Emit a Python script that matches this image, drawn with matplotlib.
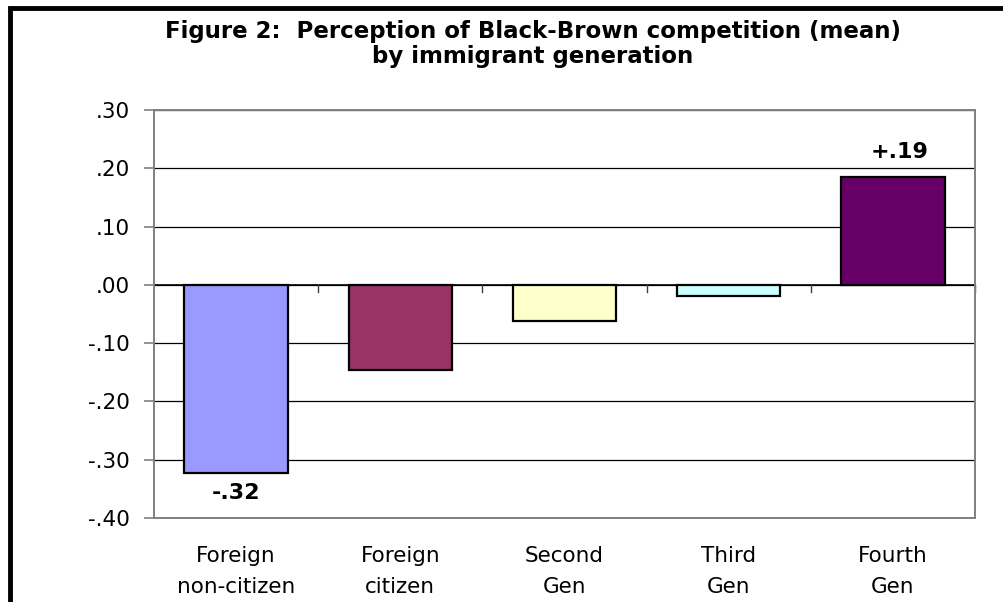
import matplotlib
matplotlib.use("Agg")
import matplotlib.pyplot as plt
from matplotlib.patches import Rectangle

categories = [["Foreign", "non-citizen"], ["Foreign", "citizen"], ["Second", "Gen"], ["Third", "Gen"], ["Fourth", "Gen"]]
values = [-0.323, -0.146, -0.062, -0.019, 0.185]
colors = ["#9999FF", "#993366", "#FFFFCC", "#CCFFFF", "#660066"]
ytick_vals = [-0.40, -0.30, -0.20, -0.10, 0.00, 0.10, 0.20, 0.30]
ytick_labels = ["-.40", "-.30", "-.20", "-.10", ".00", ".10", ".20", ".30"]
annotations = {0: "-.32", 4: "+.19"}
title_lines = ["Figure 2:  Perception of Black-Brown competition (mean)", "by immigrant generation"]

plt.rcParams['font.family'] = ['DejaVu Sans']

W, H = 1004, 602
fig = plt.figure(figsize=(W / 100, H / 100), dpi=100)
ax = fig.add_axes([154 / W, 1 - 518 / H, (975 - 154) / W, (518 - 110) / H])

x = list(range(len(categories)))
ax.bar(x, values, width=0.63, color=colors, edgecolor="black", linewidth=1.6, zorder=3)
ax.set_xlim(-0.5, len(categories) - 0.5)
ax.set_ylim(-0.40, 0.30)

ax.set_yticks(ytick_vals)
ax.set_yticklabels(ytick_labels, fontsize=15.5)
ax.yaxis.grid(True, color="black", linewidth=0.9, zorder=0)
ax.tick_params(axis="y", direction="out", length=7.5, width=1.2, color="#808080", pad=10)

ax.set_xticks([])
for i, lab in enumerate(categories):
    ax.text(i, -0.475, lab[0], ha="center", va="baseline", fontsize=15.5, clip_on=False)
    ax.text(i, -0.528, lab[1], ha="center", va="baseline", fontsize=15.5, clip_on=False)

# zero line with ticks between categories
ax.axhline(0, color="black", linewidth=1.2, zorder=4)
for b in [0.5, 1.5, 2.5, 3.5, 4.5]:
    ax.plot([b, b], [0, -0.013], color="#404040", linewidth=1.0, zorder=4, clip_on=False)

for s in ax.spines.values():
    s.set_color("#808080")
    s.set_linewidth(1.4)
    s.set_zorder(5)

for i, txt in annotations.items():
    v = values[i]
    if v < 0:
        ax.text(i, -0.367, txt, ha="center", va="baseline", fontsize=16, fontweight="bold")
    else:
        ax.text(i + 0.04, 0.218, txt, ha="center", va="baseline", fontsize=16, fontweight="bold")

fig.text(533 / W, 1 - 38 / H, title_lines[0], ha="center", va="baseline", fontsize=16.5, fontweight="bold")
fig.text(533 / W, 1 - 63 / H, title_lines[1], ha="center", va="baseline", fontsize=16.5, fontweight="bold")

# outer border
fig.patches.append(Rectangle((9.5 / W, -0.1), 1.2, 1 - 8 / H + 0.1, transform=fig.transFigure,
                             fill=False, edgecolor="black", linewidth=3.5))

fig.savefig("out.png", dpi=100)
